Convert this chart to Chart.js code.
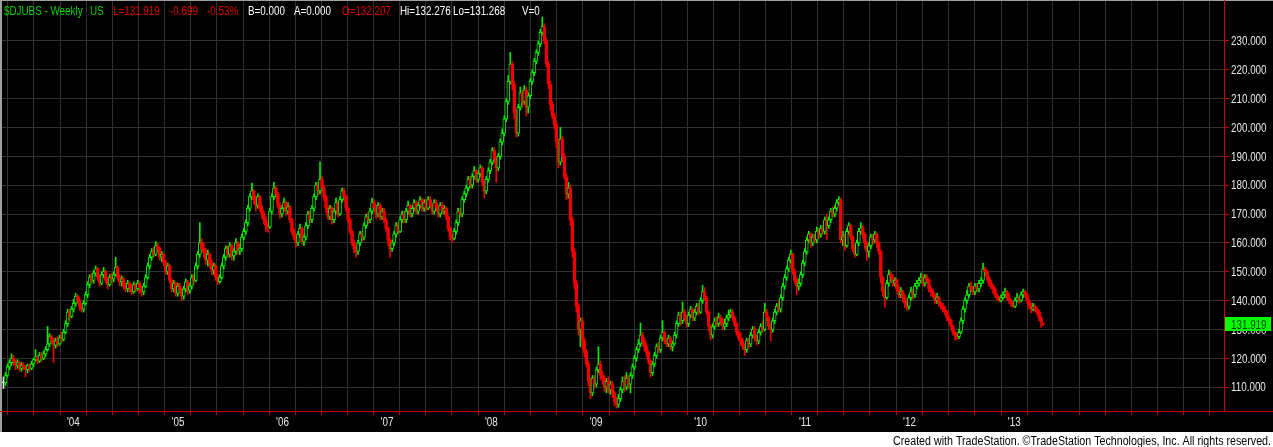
<!DOCTYPE html>
<html><head><meta charset="utf-8">
<script src="https://cdn.jsdelivr.net/npm/chart.js@4.4.0/dist/chart.umd.min.js"></script>
<style>
html,body{margin:0;padding:0;background:#fff;overflow:hidden;}
canvas{display:block;}
</style></head><body>
<canvas id="c" width="1273" height="447" style="width:1273px;height:447px"></canvas>
<script>
// ---- DATA (weekly candles, $DJUBS, first week ending 2003-05-02) ----
const firstWeek = '2003-05-02';
const opens = [
111.5,111.5,114,117,118.5,120,119,117.5,118.5,116.5,
117.5,117,116,117.5,116.5,118,119.5,120.5,119,121,
120,121.5,123,125,127.5,126,124.5,126,125,127,
126.5,129,132,136,134.5,137,139,141.5,140,138,
137,139,142,145.5,148,147,149.5,151,148,146,
149,150,147,145.5,148,147.5,149,151.5,148,146.5,
147.5,145,144,146,144.5,143,145.5,144,146,144.5,
143,145,148,152,155,157,156,159,158,155,
156,153,150,152,147,144,146,142.5,145,144,
141.5,144,146.5,143.5,145,148,147,152,156,160,
158,157,154,156,153,150.5,152,148,146.5,148,
152,155,158,156,159,155.5,157,160,157.5,158,
162,164,167,172,176,178,175,173,176,172,
170,168,166,165.5,171,176,179,177,173,170,
172,174,171,172.5,168,164,162,160,163,165,
160.5,162,166,170,168,172,176,180,178,182,
179,176,172,169,172,168,171,174,170,175,
178,176,172,168,164,160,158,157,160,163,
162,166,169,168,171,174,172,170,173,169,
171,168,165,161,158,160,163,166,164,168,
170,168,171,173,170,172,174,171,173,175,
172,174,172,175,173,171,174,172,170,173,
171,172,169,165,162,161.5,164,167,171,170,
175,177,179,182,180,183,185,182,184,186,
181,178,182,185,188,192,189,186,190,195,
198,203,209,216,222,215,205,198,207,212,
209,213,207,211,216,219,223,226,229,233,
235,230,222,215,208,204,201,195,188,196,
190,183,177,179,168,157,146,138,130,133,
126,122,118,112,108,113,111,116,118,114,
113,110,112,109,111,108,105,104,106,109,
112,110,113,111,114,117,120,123,125,128,
126,124,122,119,115,118,121,124,123,127,
129,126,125,127,124,125,128,132,135,133,
136,134,132,135,137,134,136,138,136,140,
143,141,136,131,128,131,133,132,134,133,
131,132,134,135,136,134,132,129,127,126,
124,123,126,125,128,130,127,126,129,131,
130,136,134,131,130,133,136,138,137,141,
145,148,151,154,156,150,147,145,146,149,
153,157,161,163,160,162,161,164,163,165,
164,168,166,168,171,170,172,174,175,161,
162,159,164,166,162,158,156,160,164,165,
163,160,157,159,162,161,163,160,157,148,
143,141,146,149,148,146,147,144,142,143,
141,139,138,141,143,142,145,146,147,148,
146,148,147,144,143,142,140,141,139,138,
137,136,134,133,131,129,128,127.5,129,133,
137,140,142,145,144,143,145,144,146,147,
151,150,148,146,145,144,142,141,140,141,
142,143,141,140,139,138,140,141,140,142,
143,142,140,138,137,138,137,136,134,132.207];
const highs = [
113.5,115,118,119.5,121.5,121,119.5,119.5,119,118.5,
118.5,117.5,118,118,119,120,123,121,122,122,
122.5,124,131,128.5,128,127,127,127.5,128,129,
130,133,137,137,138,140.5,142.5,142,141,139,
140,143,146.5,149,149.5,150.5,152,151.5,149,150,
151.5,150.5,148,149,149.5,150,155,152,149,148.5,
148,146,147,146.5,145.5,146.5,146,147,146.5,145,
146,149,153,156,158,158.5,160.5,160,158.5,157,
156.5,154,153,152.5,147.5,147,146.5,146,146,144.5,
145,147.5,147,146,149,149,153,157,167,161.5,
160,158,157.5,156.5,154,153,152.5,149,149,153,
156,159,159,160,159.5,158,161.5,160.5,159.5,163,
165,168,173,177,180.7,178.5,176,177,176.5,173,
171,169,167,172,177,181,179.5,177.5,174,173,
175.5,174.5,174,173,168.5,165,163,164,166.5,165.5,
163,167,171,171,173,177,181,181,188,183,
180,176.5,173,173,172.5,172,175.5,174.5,176,179,
179,176.5,172.5,168.5,164.5,161,159,161,164,164,
167,170,170.5,172,175.5,175,173,174,173.5,172,
172,168.5,165.5,161.5,161,164,167,167,169,171,
171,172,174.5,173.5,173,175,174.5,174,176,175.5,
175,175,176,176,173.5,175,175,172.5,174,174,
173,172.5,169.5,165.5,163,165,168,172,172,176,
178,180,183,183,184,186.5,185.5,185,187,186.5,
181.5,183,186,189,193,193,190,191,196,199.5,
204,210,218,226,223,216,206,208,214,213,
214.5,214,212,217,220,224,227,230,234,238.3,
236,231,223,216,209,205,202,196,200,197,
191,184,181,180,169,158,147,139,134,134,
127,123,119,113,114,114,117,124,119,115.5,
114,113,113.5,112,112,108.5,106.5,107.5,110,113.5,
114,115,114,115,118,121,124,126.5,132.2,129,
127,125,122.5,119.5,119,122,125,125.5,128,133,
129.5,127,128,127.5,126,129,133,136,136,139.5,
137,135,136,138,137.5,137,139,139,141,145.3,
144.5,141.5,136.5,131.5,132,134,134.5,135.6,135,134,
133.5,135,136.7,137,136.7,134.5,132.5,129.5,128.7,127,
125,127,127,129,131,131,128,130,132,133,
139,137,134.5,132,134,137,139,140,142,146,
149,152,155,157.5,156.5,151,148,147.5,150,154,
158,162,164,163.5,163,163,165.5,165,166,166,
169,170,169,172,172.5,173,175,176,175.5,164,
163,165,167,166.5,162.5,159,161,165,167,166,
163.5,160.5,160,163,163,164,163.5,160.5,157.5,148.5,
144,147,150.6,150,149,148,147.5,145,144.5,143.5,
142,140,142,144.7,144,146,147,148,149.5,149,
149,149,147.5,145,144,142.5,142.5,141.5,139.5,139,
138,136.5,135,133.5,131.5,129.5,129,130,134,138,
141,143.6,146,146.4,145,146,146,147,148,153,
151.6,150.5,148.5,147,145.5,144.5,142.5,141.5,142,143,
144.3,143.5,142.5,140.5,139.5,141,142.5,141.5,143,144,
143.5,142.5,140.5,139,139,138.5,137.5,136.7,134.5,132.276];
const lows = [
109.5,110.5,113.5,116,117.5,117.5,116,116.5,115.5,115.5,
116,113.5,115,115.5,116,117,119,118,118.5,119,
119.5,120.5,122.5,124,125,118.5,123.5,124,124.5,125.5,
126,128.5,131,133,134,136,138,139,136.5,136,
136,138.5,141,144.5,146,146,148.5,147,145,145.5,
148,146,144,145,146,146.5,148.5,147,145,145,
144,143,143,143,142,142.5,143,143.5,142.5,141.5,
142,144.5,147.5,151,154,155,155.5,156.5,154,153.5,
152,149,149,146,143,143,141.5,141.5,142.5,140,
140.5,143,142,142.5,144,145.5,146.5,151,155,156.5,
155,152.5,152,151.5,149,149,147,145.5,146,147.5,
151,154,155,155,154,154,156,156,156,157,
161,163,166,171,175,173.5,171,172,171,168.5,
166.5,164,163.7,165,170,175,175.5,172,168.5,169,
171,169.5,170,167,163,161,158.5,159,162,159.5,
159,161,165,167,167,171,175,176.5,177,177.5,
174.5,170.5,168,168,166.5,167,170,169,169.5,174,
174.5,171,167,163,159,156.5,155,156,159,160.5,
161,165,166.5,167,170,171,168.5,169,168,168,
167,164,159,155,157,159,162,163,163.5,167,
167,167,170,169,169,171,170,170,172,171,
171,171,171.5,172,170,170,171,169,169,170,
170,168,164,161,160.3,161,163,166,169,169,
174,176,178,179,179,182,181,181,183,180,
175.5,177,181,184,187,187.5,181,185,189,194,
197,202,208,215,213,203,196.7,197,206,207,
208,204,205,210,215,218,222,225,228,232,
229,221,213.5,206,203,199.5,193,186,187,188,
182,175,175.5,166,155,144,136,128,124,123.5,
120.4,117,110.5,106,107,109.5,110,115,112.5,111,
108.5,108,108,107.5,106.5,103.5,102.7,103,105,108,
108.5,109,109.5,108,113,116,119,122,124,124.5,
122.5,120.5,118,113.5,114,117,120,122,122,126,
125,124,124,123,122.5,124.5,127,131,131.5,132,
133,130.8,131,134,133,133,135,135,135.5,139,
140,135,129.5,126.3,127,130,131,131,131.5,129.8,
130,131,133,134,133,131,128,126,124.5,123,
121,122,123.5,124,127,126,124.5,125,128,129,
129.5,133,130,126,129,132,135,136,136,140,
144,147,150,153,149,146,142,143.6,145,148,
152,156,160,158.5,159,160,160,161.5,162,163,
163,161,165,167,169,169,171,173,160,159,
157.5,158.5,163,161,157,155,155.5,159,163,161.5,
158,154,155,158,159.5,160,158.5,156,146,141.5,
137.7,140.5,145,146.5,145,145,143,141,141,139.5,
137.5,136.7,137,140,140.5,141,144,145,146,145,
145,146,143,141.5,141,139,139,138,137,136,
135,133,132,130,128,126.3,126.5,126.8,128.5,132,
136,139,141,143,142,142,143,143,145,146,
148.5,147,145,144,142.5,141,140,139.5,139.5,140.5,
141,140,139,138,137.7,137.5,139.5,139,139.5,141,
141,139,137,135.7,136.5,136,135,133,130.8,131.268];
const closes = [
111.5,114,117,118.5,120,119,117.5,118.5,116.5,117.5,
117,116,117.5,116.5,118,119.5,120.5,119,121,120,
121.5,123,125,127.5,126,124.5,126,125,127,126.5,
129,132,136,134.5,137,139,141.5,140,138,137,
139,142,145.5,148,147,149.5,151,148,146,149,
150,147,145.5,148,147.5,149,151.5,148,146.5,147.5,
145,144,146,144.5,143,145.5,144,146,144.5,143,
145,148,152,155,157,156,159,158,155,156,
153,150,152,147,144,146,142.5,145,144,141.5,
144,146.5,143.5,145,148,147,152,156,160,158,
157,154,156,153,150.5,152,148,146.5,148,152,
155,158,156,159,155.5,157,160,157.5,158,162,
164,167,172,176,178,175,173,176,172,170,
168,166,165.5,171,176,179,177,173,170,172,
174,171,172.5,168,164,162,160,163,165,160.5,
162,166,170,168,172,176,180,178,182,179,
176,172,169,172,168,171,174,170,175,178,
176,172,168,164,160,158,157,160,163,162,
166,169,168,171,174,172,170,173,169,171,
168,165,161,158,160,163,166,164,168,170,
168,171,173,170,172,174,171,173,175,172,
174,172,175,173,171,174,172,170,173,171,
172,169,165,162,161.5,164,167,171,170,175,
177,179,182,180,183,185,182,184,186,181,
178,182,185,188,192,189,186,190,195,198,
203,209,216,222,215,205,198,207,212,209,
213,207,211,216,219,223,226,229,233,235,
230,222,215,208,204,201,195,188,196,190,
183,177,179,168,157,146,138,130,133,126,
122,118,112,108,113,111,116,118,114,113,
110,112,109,111,108,105,104,106,109,112,
110,113,111,114,117,120,123,125,128,126,
124,122,119,115,118,121,124,123,127,129,
126,125,127,124,125,128,132,135,133,136,
134,132,135,137,134,136,138,136,140,143,
141,136,131,128,131,133,132,134,133,131,
132,134,135,136,134,132,129,127,126,124,
123,126,125,128,130,127,126,129,131,130,
136,134,131,130,133,136,138,137,141,145,
148,151,154,156,150,147,145,146,149,153,
157,161,163,160,162,161,164,163,165,164,
168,166,168,171,170,172,174,175,161,162,
159,164,166,162,158,156,160,164,165,163,
160,157,159,162,161,163,160,157,148,143,
141,146,149,148,146,147,144,142,143,141,
139,138,141,143,142,145,146,147,148,146,
148,147,144,143,142,140,141,139,138,137,
136,134,133,131,129,128,127.5,129,133,137,
140,142,145,144,143,145,144,146,147,151,
150,148,146,145,144,142,141,140,141,142,
143,141,140,139,138,140,141,140,142,143,
142,140,138,137,138,137,136,134,132.618,131.919];

const yTicks = [110,120,130,140,150,160,170,180,190,200,210,220,230];
const yearTicks = [2004,2005,2006,2007,2008,2009,2010,2011,2012,2013];
const yearLabels = ["'04","'05","'06","'07","'08","'09","'10","'11","'12","'13"];
const quarterMonths = [0,3,6,9];

const headerParts = [
  ['$DJUBS - Weekly', 'green', 4], ['US', 'green', 90],
  ['L=131.919', 'red', 113], ['-0.699', 'red', 170], ['-0.53%', 'red', 207],
  ['B=0.000', 'white', 248], ['A=0.000', 'white', 294],
  ['O=132.207', 'red', 342], ['Hi=132.276', 'white', 400],
  ['Lo=131.268', 'white', 453], ['V=0', 'white', 522]
];
const footerText = 'Created with TradeStation. \u00A9TradeStation Technologies, Inc. All rights reserved.';

// ---- STYLE ----
const UP = '#00ee00', DOWN = '#f00000', FLAT = '#e6e6e6';
const GRID = '#303030', AXIS = '#c80000';
const HDR = {green:'#00d400', red:'#e00000', white:'#ffffff'};
const FONT = "'Liberation Sans', Arial, sans-serif";

const N = closes.length;
const WEEK = 7 * 864e5;
const t0 = Date.parse(firstWeek + 'T00:00:00Z');
const weekPos = (y, m) => (Date.UTC(y, m, 1) - t0) / WEEK;
const X_MIN = -0.75, X_MAX = 609.3;
const xTickVals = [];
for (let y = 2003; y <= 2014; y++) for (const m of quarterMonths) {
  const v = weekPos(y, m); if (v > X_MIN && v < X_MAX) xTickVals.push(v);
}
const colorOf = i => closes[i] > opens[i] ? UP : (closes[i] < opens[i] ? DOWN : FLAT);

function sText(ctx, t, x, y, size, sx, color, align) {
  ctx.save();
  ctx.font = size + 'px ' + FONT;
  ctx.fillStyle = color; ctx.textBaseline = 'alphabetic'; ctx.textAlign = align || 'left';
  ctx.translate(x, y); ctx.scale(sx, 1); ctx.fillText(t, 0, 0);
  ctx.restore();
}

const deco = {
  id: 'deco',
  beforeDraw(chart) {
    const ctx = chart.ctx;
    ctx.save();
    ctx.fillStyle = '#000'; ctx.fillRect(0, 0, 1273, 432);
    ctx.fillStyle = '#fff'; ctx.fillRect(0, 432, 1273, 15);
    ctx.restore();
  },
  afterDraw(chart) {
    const ctx = chart.ctx, a = chart.chartArea;
    const ys = chart.scales.y, xs = chart.scales.x;
    ctx.save();
    // frame lines
    ctx.fillStyle = '#a0a0a0'; ctx.fillRect(0, 0, 1273, 1); ctx.fillRect(0, 0, 2, 432);
    ctx.fillStyle = AXIS;
    ctx.fillRect(0, Math.round(a.bottom), 1273, 1);
    ctx.fillRect(Math.round(a.right), 0, 1, Math.round(a.bottom));
    // y labels
    ys.ticks.forEach(t => {
      const p = ys.getPixelForValue(t.value);
      sText(ctx, t.value.toFixed(3), a.right + 7, p + 4.3, 12, 0.82, '#e8e8e8');
    });
    // x labels
    yearTicks.forEach((yr, k) => {
      const p = xs.getPixelForValue(weekPos(yr, 0));
      sText(ctx, yearLabels[k], p, a.bottom + 14.5, 12, 0.82, '#e8e8e8', 'center');
    });
    // last price box
    const lp = ys.getPixelForValue(closes[N - 1]);
    ctx.fillStyle = '#00ff00';
    ctx.fillRect(a.right + 1, Math.round(lp) - 7, 46, 14);
    sText(ctx, closes[N - 1].toFixed(3), a.right + 7, Math.round(lp) + 4.5, 12, 0.82, '#0a3a0a');
    // header
    headerParts.forEach(p => sText(ctx, p[0], p[2], 15, 12, 0.82, HDR[p[1]]));
    // footer
    ctx.font = '12.5px ' + FONT;
    const w = ctx.measureText(footerText).width;
    sText(ctx, footerText, 1271, 445, 12.5, 378 / w, '#000', 'right');
    ctx.restore();
  }
};

new Chart(document.getElementById('c'), {
  type: 'bar',
  data: {
    datasets: [
      {
        label: 'body', order: 0,
        data: closes.map((c, i) => ({x: i, y: [opens[i], c]})),
        barThickness: 3, minBarLength: 1, grouped: false,
        borderWidth: 1, borderSkipped: false,
        borderColor: ctx => colorOf(ctx.dataIndex),
        backgroundColor: ctx => closes[ctx.dataIndex] > opens[ctx.dataIndex] ? '#000' : colorOf(ctx.dataIndex)
      },
      {
        label: 'wick', order: 1,
        data: highs.map((h, i) => ({x: i, y: [lows[i], h]})),
        barThickness: 1, grouped: false, borderWidth: 0,
        backgroundColor: ctx => colorOf(ctx.dataIndex)
      }
    ]
  },
  options: {
    responsive: false, animation: false, events: [],
    devicePixelRatio: 1,
    layout: {padding: {left: 2, top: 0, right: 0, bottom: 15}},
    plugins: {legend: {display: false}, tooltip: {enabled: false}},
    scales: {
      x: {
        type: 'linear', min: X_MIN, max: X_MAX, bounds: 'data', offset: false,
        afterBuildTicks: s => { s.ticks = xTickVals.map(v => ({value: v})); },
        afterFit: s => { s.height = 21; },
        ticks: {display: false},
        grid: {color: GRID, tickColor: AXIS, tickLength: 4, drawTicks: true},
        border: {display: false}
      },
      y: {
        position: 'right', min: 101.7, max: 244.2, bounds: 'data',
        afterBuildTicks: s => { s.ticks = yTicks.map(v => ({value: v})); },
        afterFit: s => { s.width = 49; },
        ticks: {display: false},
        grid: {color: GRID, tickColor: AXIS, tickLength: 5, drawTicks: true},
        border: {display: false}
      }
    }
  },
  plugins: [deco]
});
</script>
</body></html>
